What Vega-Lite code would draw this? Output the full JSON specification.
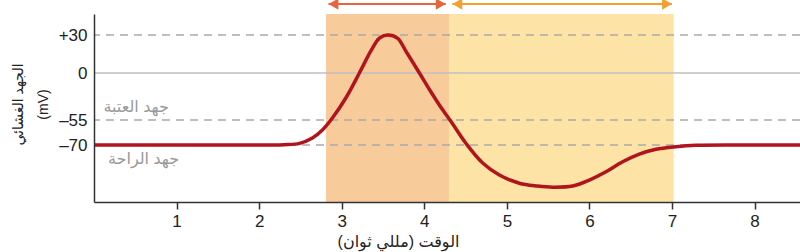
{
  "$schema": "https://vega.github.io/schema/vega-lite/v6.json",
  "autosize": {"type": "none"},
  "padding": {"left": 94, "top": 14, "right": 0, "bottom": 50},
  "width": 706,
  "height": 188,
  "background": "white",
  "config": {
    "view": {"stroke": null},
    "font": "Liberation Sans, DejaVu Sans",
    "axis": {"labelFont": "Liberation Sans, DejaVu Sans", "titleFont": "Liberation Sans, DejaVu Sans"}
  },
  "resolve": {"scale": {"color": "independent", "strokeDash": "independent", "shape": "independent"}},
  "datasets": {
    "curve": [
      {"t": 0, "mv": -70},
      {"t": 1.0, "mv": -70},
      {"t": 1.9, "mv": -70},
      {"t": 2.3, "mv": -69.8},
      {"t": 2.49, "mv": -69.0},
      {"t": 2.645, "mv": -65.8},
      {"t": 2.766, "mv": -61.0},
      {"t": 2.887, "mv": -52.7},
      {"t": 3.057, "mv": -28.1},
      {"t": 3.214, "mv": 0},
      {"t": 3.36, "mv": 18.2},
      {"t": 3.457, "mv": 27.6},
      {"t": 3.553, "mv": 30},
      {"t": 3.674, "mv": 27.6},
      {"t": 3.783, "mv": 16.6},
      {"t": 3.941, "mv": 0},
      {"t": 4.062, "mv": -19.3},
      {"t": 4.203, "mv": -40.4},
      {"t": 4.324, "mv": -55.9},
      {"t": 4.506, "mv": -69.1},
      {"t": 4.707, "mv": -76.3},
      {"t": 4.909, "mv": -80.5},
      {"t": 5.151, "mv": -83.4},
      {"t": 5.373, "mv": -84.4},
      {"t": 5.554, "mv": -84.8},
      {"t": 5.797, "mv": -84.4},
      {"t": 5.999, "mv": -82.3},
      {"t": 6.201, "mv": -79.4},
      {"t": 6.402, "mv": -75.9},
      {"t": 6.604, "mv": -73.2},
      {"t": 6.806, "mv": -71.5},
      {"t": 7.048, "mv": -70.6},
      {"t": 7.29, "mv": -70.1},
      {"t": 8.0, "mv": -70},
      {"t": 8.55, "mv": -70}
    ],
    "phases": [
      {"phase": "depolarization", "start": 2.81, "end": 4.3},
      {"phase": "repolarization", "start": 4.3, "end": 7.02}
    ],
    "refs": [
      {"mv": 30, "kind": "dashed"},
      {"mv": 0, "kind": "solid"},
      {"mv": -55, "kind": "dashed"},
      {"mv": -70, "kind": "dashed"}
    ],
    "arrows": [
      {"phase": "depolarization", "from": 2.84, "to": 4.26},
      {"phase": "repolarization", "from": 4.34, "to": 7.0}
    ],
    "heads": [
      {"phase": "depolarization", "t": 2.9, "dir": "left"},
      {"phase": "depolarization", "t": 4.2, "dir": "right"},
      {"phase": "repolarization", "t": 4.4, "dir": "left"},
      {"phase": "repolarization", "t": 6.94, "dir": "right"}
    ],
    "labels": [
      {"label": "جهد العتبة", "t": 0.51, "mv": -46},
      {"label": "جهد الراحة", "t": 0.6, "mv": -76.5}
    ]
  },
  "layer": [
    {
      "data": {"name": "phases"},
      "mark": {"type": "rect"},
      "encoding": {
        "x": {
          "field": "start", "type": "quantitative",
          "scale": {"domain": [0, 8.55], "nice": false, "zero": false},
          "axis": {
            "values": [1, 2, 3, 4, 5, 6, 7, 8],
            "format": "d",
            "title": "الوقت (مللي ثوان)",
            "titleFontSize": 16, "titleFontWeight": "normal", "titleColor": "#222",
            "titleX": 304, "titleY": 39, "titleBaseline": "middle", "titleAlign": "center", "titleAnchor": null,
            "labelFontSize": 17, "labelColor": "#222", "labelPadding": 4,
            "tickSize": 7, "tickColor": "#333", "tickWidth": 1.5,
            "domainColor": "#333", "domainWidth": 1.5,
            "grid": false, "zindex": 1
          }
        },
        "x2": {"field": "end"},
        "color": {
          "field": "phase", "type": "nominal", "legend": null,
          "scale": {"domain": ["depolarization", "repolarization"], "range": ["#f8cb9a", "#fde4a6"]}
        }
      }
    },
    {
      "data": {"name": "refs"},
      "mark": {"type": "rule", "strokeWidth": 1.5},
      "encoding": {
        "y": {
          "field": "mv", "type": "quantitative",
          "scale": {"domain": [-90, -70, -55, 0, 30, 47], "range": [188, 131, 106, 59, 21, 0], "nice": false, "zero": false},
          "axis": {
            "values": [30, 0, -55, -70],
            "labelExpr": "datum.value === 30 ? '+30' : datum.value === 0 ? '0' : '–' + abs(datum.value)",
            "labelFontSize": 17, "labelColor": "#222", "labelPadding": 7,
            "ticks": false, "grid": false,
            "domainColor": "#333", "domainWidth": 1.5,
            "title": ["الجهد الغشائي", "(mV)"],
            "titleFontSize": 14, "titleFontWeight": "normal", "titleColor": "#222",
            "titleAngle": -90, "titleX": -76, "titleY": 90,
            "titleAlign": "center", "titleBaseline": "middle", "titleLineHeight": 25,
            "zindex": 1
          }
        },
        "strokeDash": {
          "field": "kind", "type": "nominal", "legend": null,
          "scale": {"domain": ["dashed", "solid"], "range": [[8, 6], [1, 0]]}
        },
        "color": {
          "field": "kind", "type": "nominal", "legend": null,
          "scale": {"domain": ["dashed", "solid"], "range": ["#a9a9a9", "#c0c0c0"]}
        }
      }
    },
    {
      "data": {"name": "curve"},
      "mark": {"type": "line", "interpolate": "catmull-rom", "color": "#b0141c", "strokeWidth": 3.5},
      "encoding": {
        "x": {"field": "t", "type": "quantitative"},
        "y": {"field": "mv", "type": "quantitative"}
      }
    },
    {
      "data": {"name": "arrows"},
      "mark": {"type": "rule", "strokeWidth": 2},
      "encoding": {
        "x": {"field": "from", "type": "quantitative"},
        "x2": {"field": "to"},
        "y": {"datum": 55, "type": "quantitative"},
        "color": {
          "field": "phase", "type": "nominal", "legend": null,
          "scale": {"domain": ["depolarization", "repolarization"], "range": ["#e8643c", "#f3a02e"]}
        }
      }
    },
    {
      "data": {"name": "heads"},
      "mark": {"type": "point", "filled": true, "size": 130, "opacity": 1},
      "encoding": {
        "x": {"field": "t", "type": "quantitative"},
        "y": {"datum": 55, "type": "quantitative"},
        "shape": {
          "field": "dir", "type": "nominal", "legend": null,
          "scale": {"domain": ["left", "right"], "range": ["triangle-left", "triangle-right"]}
        },
        "color": {
          "field": "phase", "type": "nominal", "legend": null,
          "scale": {"domain": ["depolarization", "repolarization"], "range": ["#e8643c", "#f3a02e"]}
        }
      }
    },
    {
      "data": {"name": "labels"},
      "mark": {"type": "text", "fontSize": 16, "color": "#999999", "align": "center", "baseline": "alphabetic", "font": "Liberation Sans, DejaVu Sans"},
      "encoding": {
        "x": {"field": "t", "type": "quantitative"},
        "y": {"field": "mv", "type": "quantitative"},
        "text": {"field": "label"}
      }
    }
  ]
}
